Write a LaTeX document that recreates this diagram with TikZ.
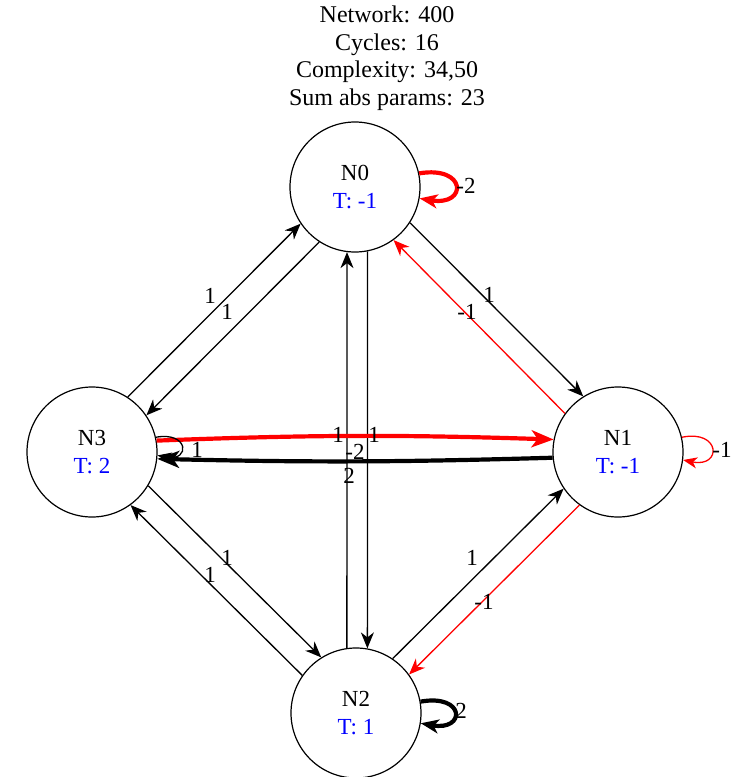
\documentclass[tikz,border=0pt]{standalone}
\usepackage{fontspec}
\setmainfont{Liberation Serif}
\usetikzlibrary{arrows.meta}
\begin{document}
\begin{tikzpicture}[x=1pt,y=-1pt,
  st/.style={circle, draw, line width=1.2pt, minimum size=130pt, inner sep=0pt, align=center, font=\fontsize{23}{28}\selectfont},
  ttl/.style={align=center, inner sep=0pt, font=\fontsize{24}{27.5}\selectfont},
  lbl/.style={inner sep=0pt, font=\fontsize{23}{23}\selectfont},
  thinedge/.style={line width=1.3pt, -{Stealth[length=16pt,width=13pt,inset=5pt]}},
  thickedge/.style={line width=4.2pt, -{Stealth[length=22pt,width=17pt,inset=6pt]}},
  loopthin/.style={line width=1.3pt, -{Stealth[length=14pt,width=11pt,inset=4pt]}},
  loopthick/.style={line width=4.2pt, -{Stealth[length=18pt,width=14pt,inset=5pt]}}]
\useasboundingbox (0,0) rectangle (732,777);
\node[ttl] (title) at (387,58) {Network: 400\\Cycles: 16\\Complexity: 34,50\\Sum abs params: 23};
\node[st] (N0) at (355,187) {N0\\\textcolor{blue}{T: -1}};
\node[st] (N1) at (618,452) {N1\\\textcolor{blue}{T: -1}};
\node[st] (N2) at (356,713) {N2\\\textcolor{blue}{T: 1}};
\node[st] (N3) at (92,452) {N3\\\textcolor{blue}{T: 2}};
% N0 - N3
\draw[thinedge] (N3.57) -- (N0.214);
\draw[thinedge] (N0.237) -- (N3.34);
% N0 - N1
\draw[thinedge] (N0.327) -- (N1.122);
\draw[thinedge, red] (N1.144) -- (N0.306);
% N3 - N2
\draw[thinedge] (N3.329) -- (N2.122);
\draw[thinedge] (N2.145) -- (N3.306);
% N2 - N1
\draw[thinedge] (N2.56) -- (N1.214);
\draw[thinedge, red] (N1.234) -- (N2.36);
% N0 - N2
\draw[thinedge] (N2.98) -- (N0.263);
\draw[thinedge] (N0.281) -- (N2.80);
% N3 - N1
\draw[thickedge, red] (N3.10) to[bend left=2] (N1.169);
\draw[thickedge] (N1.185) to[bend left=1.5] (N3.354);
% self loops
\draw[loopthick, red] (N0.12) .. controls +(48,-8) and +(48,8) .. (N0.-10);
\draw[loopthin, red] (N1.13) .. controls +(39,-8) and +(39,8) .. (N1.-7);
\draw[loopthick] (N2.10) .. controls +(45,-8) and +(45,8) .. (N2.-9);
\draw[loopthin] (N3.13) .. controls +(33,-6) and +(33,6) .. (N3.-3);
% labels
\node[lbl] (a1) at (210,296) {1};
\node[lbl] (a2) at (227,312) {1};
\node[lbl] (b1) at (489,295) {1};
\node[lbl] (b2) at (467,312) {-1};
\node[lbl] (c1) at (227,558) {1};
\node[lbl] (c2) at (210,575) {1};
\node[lbl] (d1) at (472,558) {1};
\node[lbl] (d2) at (484,602) {-1};
\node[lbl] (e1) at (338,435) {1};
\node[lbl] (e2) at (374,435) {1};
\node[lbl] (e3) at (355,452) {-2};
\node[lbl] (e4) at (349,476) {2};
\node[lbl] (f0) at (466,186) {-2};
\node[lbl] (f1) at (722,450) {-1};
\node[lbl] (f2) at (461,711) {2};
\node[lbl] (f3) at (197,450) {1};
\end{tikzpicture}
\end{document}
